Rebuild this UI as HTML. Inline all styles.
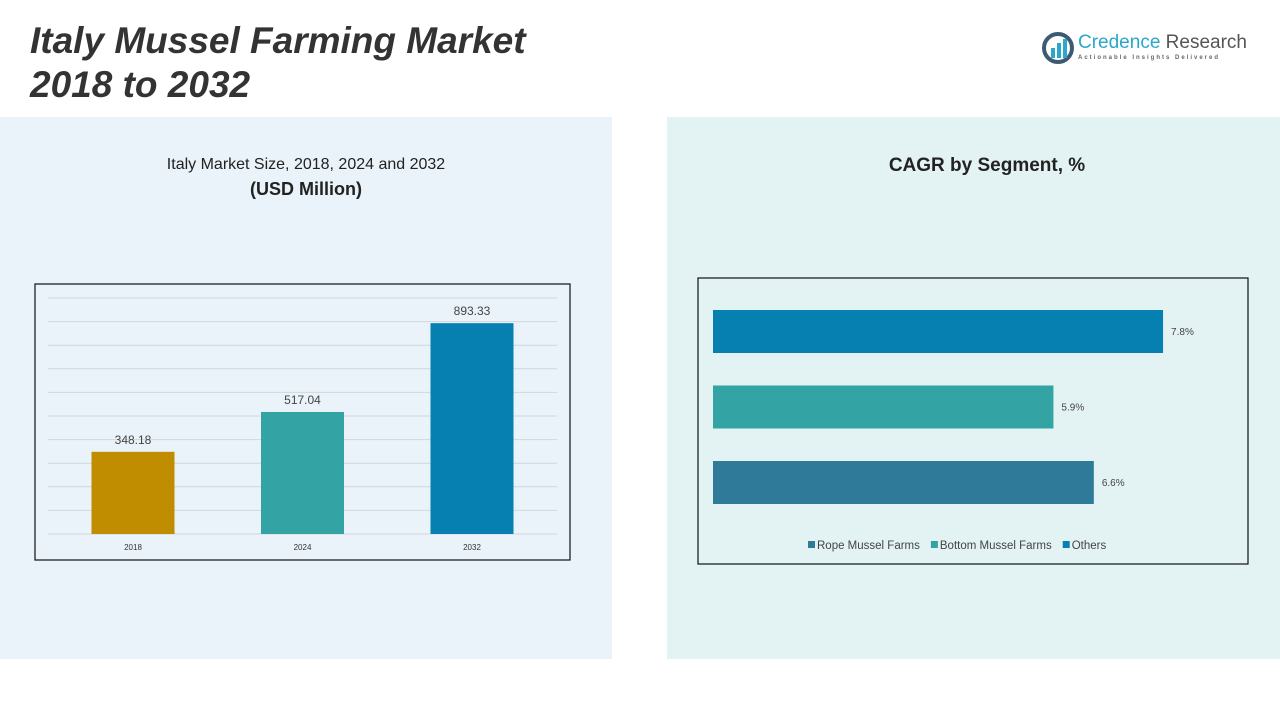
<!DOCTYPE html>
<html><head><meta charset="utf-8"><style>
body{margin:0;width:1280px;height:720px;background:#fff;font-family:"Liberation Sans",sans-serif;position:relative;overflow:hidden}
.abs{position:absolute}
</style></head><body>
<div class="abs" style="left:30px;top:19px;font-size:37px;font-weight:bold;font-style:italic;color:#333;line-height:44px">Italy Mussel Farming Market<br>2018 to 2032</div>
<div class="abs" style="left:1042px;top:32px;width:210px;height:36px">
<svg width="32" height="32" style="position:absolute;left:0;top:0"><circle cx="16" cy="16" r="14" fill="none" stroke="#3d5a73" stroke-width="4"/><rect x="9" y="16" width="4" height="10" fill="#2aa7c9"/><rect x="15" y="11" width="4" height="15" fill="#2aa7c9"/><rect x="21" y="7" width="4" height="19" fill="#2aa7c9"/></svg>
<div style="position:absolute;left:36px;top:0;font-size:19px;color:#2aa7c9;white-space:nowrap">Credence <span style="color:#555">Research</span></div>
<div style="position:absolute;left:36px;top:23px;font-size:6px;letter-spacing:2px;color:#666;white-space:nowrap;font-weight:bold">Actionable Insights Delivered</div>
</div>
<div class="abs" style="left:0;top:117px;width:612px;height:542px;background:#eaf3f9"></div>
<div class="abs" style="left:667px;top:117px;width:613px;height:542px;background:#e3f3f4"></div>
<div class="abs" style="left:0;top:153px;width:612px;text-align:center;font-size:16px;color:#222;line-height:24px">Italy Market Size, 2018, 2024 and 2032<br><b style="font-size:18px">(USD Million)</b></div>
<div class="abs" style="left:667px;top:155px;width:640px;text-align:center;font-size:19px;font-weight:bold;color:#222">CAGR by Segment, %</div>
<svg class="abs" style="left:0;top:0" width="1280" height="720" id="svg">
<rect x="35" y="284" width="535" height="276" fill="none" stroke="#111" stroke-width="1.2"/>
<rect x="698" y="278" width="550" height="286" fill="#e3f3f4" stroke="#111" stroke-width="1.2"/>
<g id="left"></g><g id="right"></g>
</svg>
<script>
const years=["2018","2024","2032"];
const sizes=[348.18,517.04,893.33];
const barColors=["#c08c00","#33a3a3","#0580b0"];
const segments=["Others","Bottom Mussel Farms","Rope Mussel Farms"];
const cagr=[7.8,5.9,6.6];
const segColors=["#0580b0","#33a3a3","#2f7a99"];
const legendOrder=["Rope Mussel Farms","Bottom Mussel Farms","Others"];
const legendColors=["#2f7a99","#33a3a3","#0580b0"];
const NS="http://www.w3.org/2000/svg";
function mk(t,a,p,txt){const e=document.createElementNS(NS,t);for(const k in a)e.setAttribute(k,a[k]);if(txt!=null)e.textContent=txt;p.appendChild(e);return e;}
const L=document.getElementById('left');
const base=534,ppu=0.236;
const y=v=>base-v*ppu;
for(let g=0;g<=1000;g+=100){const e=mk('line',{x1:48,x2:557,y1:y(g),y2:y(g),stroke:'#d0d6da','stroke-width':1},L);

}
years.forEach((yr,i)=>{const cx=133+i*169.5;
const r=mk('rect',{x:cx-41.5,y:y(sizes[i]),width:83,height:sizes[i]*ppu,fill:barColors[i]},L);


const t=mk('text',{x:cx,y:y(sizes[i])-8,'text-anchor':'middle','font-size':12,fill:'#444'},L,sizes[i].toFixed(2));


const xl=mk('text',{x:cx,y:550,'text-anchor':'middle','font-size':8,fill:'#333'},L,yr);

});
const R=document.getElementById('right');
const x0=713,ppp=57.7;
segments.forEach((s,i)=>{const yy=310+i*75.5;
const r=mk('rect',{x:x0,y:yy,width:cagr[i]*ppp,height:43,fill:segColors[i]},R);


const t=mk('text',{x:x0+cagr[i]*ppp+8,y:yy+25,'font-size':10,fill:'#444'},R,cagr[i].toFixed(1)+'%');

});
let lx=808;
legendOrder.forEach((s,i)=>{
const m=mk('rect',{x:lx,y:541,width:7,height:7,fill:legendColors[i]},R);


const t=mk('text',{x:lx+9,y:549,'font-size':11.5,fill:'#444'},R,s);


lx+=t.getComputedTextLength()+20;});
</script>
</body></html>
